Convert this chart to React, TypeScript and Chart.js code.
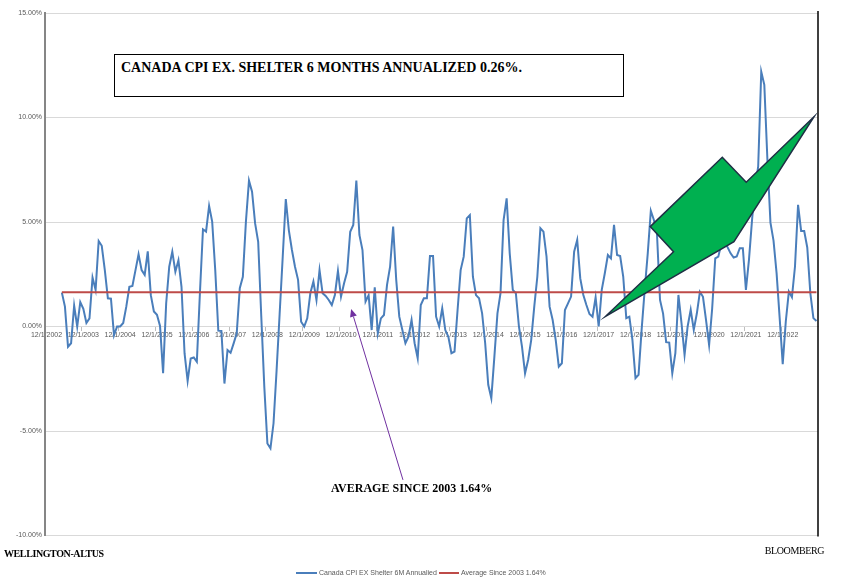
import React, { useEffect, useRef } from "react";
import { Chart, registerables } from "chart.js";

Chart.register(...registerables);

// ---------- data ----------
const FIRST_YEAR = 2002;
const FIRST_MONTH = 12;
const MONTH_COUNT = 252;

const categories: string[] = Array.from({ length: MONTH_COUNT }, (_, k) => {
  const m0 = FIRST_MONTH - 1 + k;
  return `${(m0 % 12) + 1}/1/${FIRST_YEAR + Math.floor(m0 / 12)}`;
});

const cpiExShelter6mAnnualized: (number | null)[] = [
  null, null, null, null, null,
  1.62, 0.95, -0.97, -0.8, 1.0, 0.0, 1.17,
  0.85, 0.17, 0.39, 2.34, 1.75, 4.09, 3.86, 2.7, 1.35, 1.33, -0.42, 0.0,
  0.0, 0.17, 0.95, 1.9, 1.94, 2.7, 3.46, 2.7, 2.47, 3.6, 1.5, 0.72,
  0.56, 0.03, -2.23, 1.1, 2.86, 3.58, 2.62, 3.17, 1.9, -1.29, -2.6, -1.53,
  -1.48, -1.69, 1.59, 4.65, 4.54, 5.77, 5.02, 2.7, -0.2, -0.21, -2.73, -1.13,
  -1.26, -0.81, -0.33, 1.83, 2.38, 5.02, 6.98, 6.45, 4.93, 4.05, 0.5, -2.9,
  -5.6, -5.83, -4.63, -2.1, 0.62, 3.34, 6.1, 4.6, 3.66, 2.86, 2.23, 0.23,
  0.0, 0.39, 1.59, 2.15, 1.27, 2.7, 1.59, 1.46, 1.27, 1.03, 1.51, 2.66,
  1.43, 2.07, 2.62, 4.53, 4.86, 6.98, 4.38, 3.66, 1.19, 1.5, -0.17, 1.88,
  -0.33, 0.39, 0.55, 1.99, 2.86, 4.78, 2.23, 0.47, -0.17, -0.8, -0.49, 0.31,
  -0.8, -1.52, 1.03, 1.35, 1.35, 3.37, 3.37, 0.47, 0.0, 0.87, -0.17, -0.49,
  -1.28, -1.2, 0.79, 2.7, 3.34, 5.17, 5.33, 2.38, 1.5, 1.35, 0.63, -0.8,
  -2.79, -3.43, -1.44, 0.63, 1.59, 5.09, 6.13, 3.5, 1.75, 1.59, 0.0, -0.96,
  -2.24, -1.6, -0.65, 0.95, 2.38, 4.7, 4.54, 3.34, 0.95, 0.31, -0.65, -1.92,
  -1.76, 0.79, 1.11, 1.43, 3.58, 4.14, 2.3, 1.51, 1.03, 0.6, 0.47, 1.39,
  0.0, 1.75, 2.55, 3.42, 3.26, 4.86, 3.42, 3.37, 2.39, 0.4, 0.47, -0.64,
  -2.47, -2.31, -0.16, 1.75, 3.5, 5.54, 5.1, 4.46, 1.27, 0.62, -0.75, -0.77,
  -2.24, -1.28, 1.51, 0.16, -1.36, 0.0, 0.8, -0.16, 0.62, 1.66, 1.42, 0.3,
  -0.89, 0.86, 3.26, 3.34, 3.97, 4.13, 3.8, 3.5, 3.3, 3.35, 3.75, 3.75,
  1.75, 3.2, 5.1, 6.7, 7.65, 12.19, 11.56, 8.0, 4.97, 4.11, 2.55, 0.41,
  -1.8, 0.24, 1.67, 1.4, 2.87, 5.82, 4.57, 4.57, 3.78, 1.6, 0.4, 0.26,
];

const AVERAGE_SINCE_2003 = 1.64;
const averageSince2003: (number | null)[] = cpiExShelter6mAnnualized.map((v) =>
  v === null ? null : AVERAGE_SINCE_2003
);

const Y_MIN = -10;
const Y_MAX = 15;
const Y_STEP = 5;

const SERIES_NAME = "Canada CPI EX Shelter 6M Annualied";
const AVERAGE_NAME = "Average Since 2003 1.64%";
const TITLE_TEXT = "CANADA CPI EX. SHELTER 6 MONTHS ANNUALIZED 0.26%.";
const AVERAGE_NOTE = "AVERAGE SINCE 2003 1.64%";
const LEFT_FOOTER = "WELLINGTON-ALTUS";
const RIGHT_FOOTER = "BLOOMBERG";

// annotation shapes, in (category index, value) space
const GREEN_ARROW: [number, number][] = [
  [182.1, 0.47],
  [204.4, 3.58],
  [196.8, 4.78],
  [220.3, 8.1],
  [228.1, 6.9],
  [250.2, 10.04],
  [224.1, 4.06],
];
const PURPLE_ARROW_FROM: [number, number] = [116.2, -7.34];
const PURPLE_ARROW_TO: [number, number] = [99.3, 0.84];

// ---------- styles ----------
const BLUE = "#4a7ebb";
const RED = "#be4b48";
const AXIS_FONT = "'Liberation Sans', Arial, sans-serif";
const SERIF = "'Liberation Serif', 'Times New Roman', serif";

const decorPlugin = {
  id: "decor",
  afterDatasetsDraw(chart: any) {
    const { ctx, chartArea: a, scales } = chart;
    const xs = scales.x;
    const ys = scales.y;
    const P = (p: [number, number]) => [xs.getPixelForValue(p[0]), ys.getPixelForValue(p[1])];
    ctx.save();
    // right border
    ctx.strokeStyle = "#000";
    ctx.lineWidth = 1.5;
    ctx.beginPath();
    ctx.moveTo(a.right, a.top - 2);
    ctx.lineTo(a.right, a.bottom + 1);
    ctx.stroke();

    // green arrow
    ctx.beginPath();
    GREEN_ARROW.forEach((p, k) => {
      const [px, py] = P(p);
      if (k === 0) ctx.moveTo(px, py);
      else ctx.lineTo(px, py);
    });
    ctx.closePath();
    ctx.fillStyle = "#00b050";
    ctx.fill();
    ctx.strokeStyle = "#1f2f45";
    ctx.lineWidth = 1.5;
    ctx.lineJoin = "miter";
    ctx.stroke();

    // purple arrow
    const [x1, y1] = P(PURPLE_ARROW_FROM);
    const [x2, y2] = P(PURPLE_ARROW_TO);
    const ang = Math.atan2(y2 - y1, x2 - x1);
    const headLen = 8;
    const headW = 3.5;
    const bx = x2 - headLen * Math.cos(ang);
    const by = y2 - headLen * Math.sin(ang);
    ctx.strokeStyle = "#7030a0";
    ctx.fillStyle = "#7030a0";
    ctx.lineWidth = 1;
    ctx.beginPath();
    ctx.moveTo(x1, y1);
    ctx.lineTo(bx, by);
    ctx.stroke();
    ctx.beginPath();
    ctx.moveTo(x2, y2);
    ctx.lineTo(bx + headW * Math.sin(ang), by - headW * Math.cos(ang));
    ctx.lineTo(bx - headW * Math.sin(ang), by + headW * Math.cos(ang));
    ctx.closePath();
    ctx.fill();
    ctx.restore();
  },
};

export default function App() {
  const canvasRef = useRef<HTMLCanvasElement | null>(null);

  useEffect(() => {
    if (!canvasRef.current) return;
    const chart = new Chart(canvasRef.current, {
      type: "line",
      data: {
        labels: categories,
        datasets: [
          {
            label: SERIES_NAME,
            data: cpiExShelter6mAnnualized,
            borderColor: BLUE,
            backgroundColor: BLUE,
            borderWidth: 2,
            pointRadius: 0,
            tension: 0,
            order: 1,
          },
          {
            label: AVERAGE_NAME,
            data: averageSince2003,
            borderColor: RED,
            backgroundColor: RED,
            borderWidth: 2,
            pointRadius: 0,
            tension: 0,
            order: 0,
          },
        ],
      },
      options: {
        animation: false,
        responsive: false,
        maintainAspectRatio: false,
        events: [],
        layout: { padding: { top: 13, right: 41, bottom: 44.5, left: 0 } },
        plugins: {
          legend: { display: false },
          tooltip: { enabled: false },
        },
        scales: {
          x: {
            type: "category",
            position: { y: 0 } as any,
            offset: true,
            grid: {
              offset: true,
              drawOnChartArea: false,
              drawTicks: true,
              tickLength: 4,
              color: (c: any) => (c.index % 12 === 0 ? "#bfbfbf" : "rgba(0,0,0,0)"),
            },
            border: { display: true, color: "#d9d9d9", width: 1 },
            ticks: {
              autoSkip: false,
              maxRotation: 0,
              minRotation: 0,
              padding: 0,
              color: "#595959",
              font: { size: 7, family: AXIS_FONT },
              callback: (_v: any, i: number) => (i % 12 === 0 ? categories[i] : ""),
            },
          },
          y: {
            type: "linear",
            min: Y_MIN,
            max: Y_MAX,
            afterFit: (s: any) => {
              s.width = 45;
            },
            grid: { color: "#d9d9d9", lineWidth: 1, drawTicks: false },
            border: { color: "#868686", width: 2 },
            ticks: {
              stepSize: Y_STEP,
              padding: 3,
              color: "#595959",
              font: { size: 7, family: AXIS_FONT },
              callback: (v: any) => Number(v).toFixed(2) + "%",
            },
          },
        },
      },
      plugins: [decorPlugin],
    });
    return () => chart.destroy();
  }, []);

  const abs = (s: React.CSSProperties): React.CSSProperties => ({ position: "absolute", whiteSpace: "nowrap", ...s });

  return (
    <div style={{ position: "absolute", left: 0, top: 0, width: 859, height: 580, background: "#fff", overflow: "hidden" }}>
      <canvas ref={canvasRef} width={859} height={580} style={{ position: "absolute", left: 0, top: 0, width: 859, height: 580 }} />
      <div
        style={abs({
          left: 114,
          top: 54,
          width: 510,
          height: 43,
          boxSizing: "border-box",
          border: "1px solid #000",
          background: "#fff",
          paddingLeft: 6,
          paddingTop: 5,
          font: `bold 14px ${SERIF}`,
          lineHeight: "16px",
          color: "#000",
        })}
      >
        {TITLE_TEXT}
      </div>
      <div style={abs({ left: 331, top: 481, font: `bold 12px ${SERIF}`, lineHeight: "14px", color: "#000" })}>
        {AVERAGE_NOTE}
      </div>
      <div style={abs({ left: 4, top: 548, font: `bold 10px ${SERIF}`, letterSpacing: "-0.4px", lineHeight: "12px", color: "#000" })}>
        {LEFT_FOOTER}
      </div>
      <div style={abs({ right: 35, top: 545, font: `10px ${SERIF}`, letterSpacing: "-0.4px", lineHeight: "12px", color: "#000" })}>
        {RIGHT_FOOTER}
      </div>
      <div style={abs({ left: 296, top: 572, width: 21, height: 2, background: BLUE })} />
      <div style={abs({ left: 319, top: 568, font: `7px ${AXIS_FONT}`, lineHeight: "9px", color: "#595959" })}>
        {SERIES_NAME}
      </div>
      <div style={abs({ left: 439, top: 572, width: 20, height: 2, background: RED })} />
      <div style={abs({ left: 461, top: 568, font: `7px ${AXIS_FONT}`, lineHeight: "9px", color: "#595959" })}>
        {AVERAGE_NAME}
      </div>
    </div>
  );
}
